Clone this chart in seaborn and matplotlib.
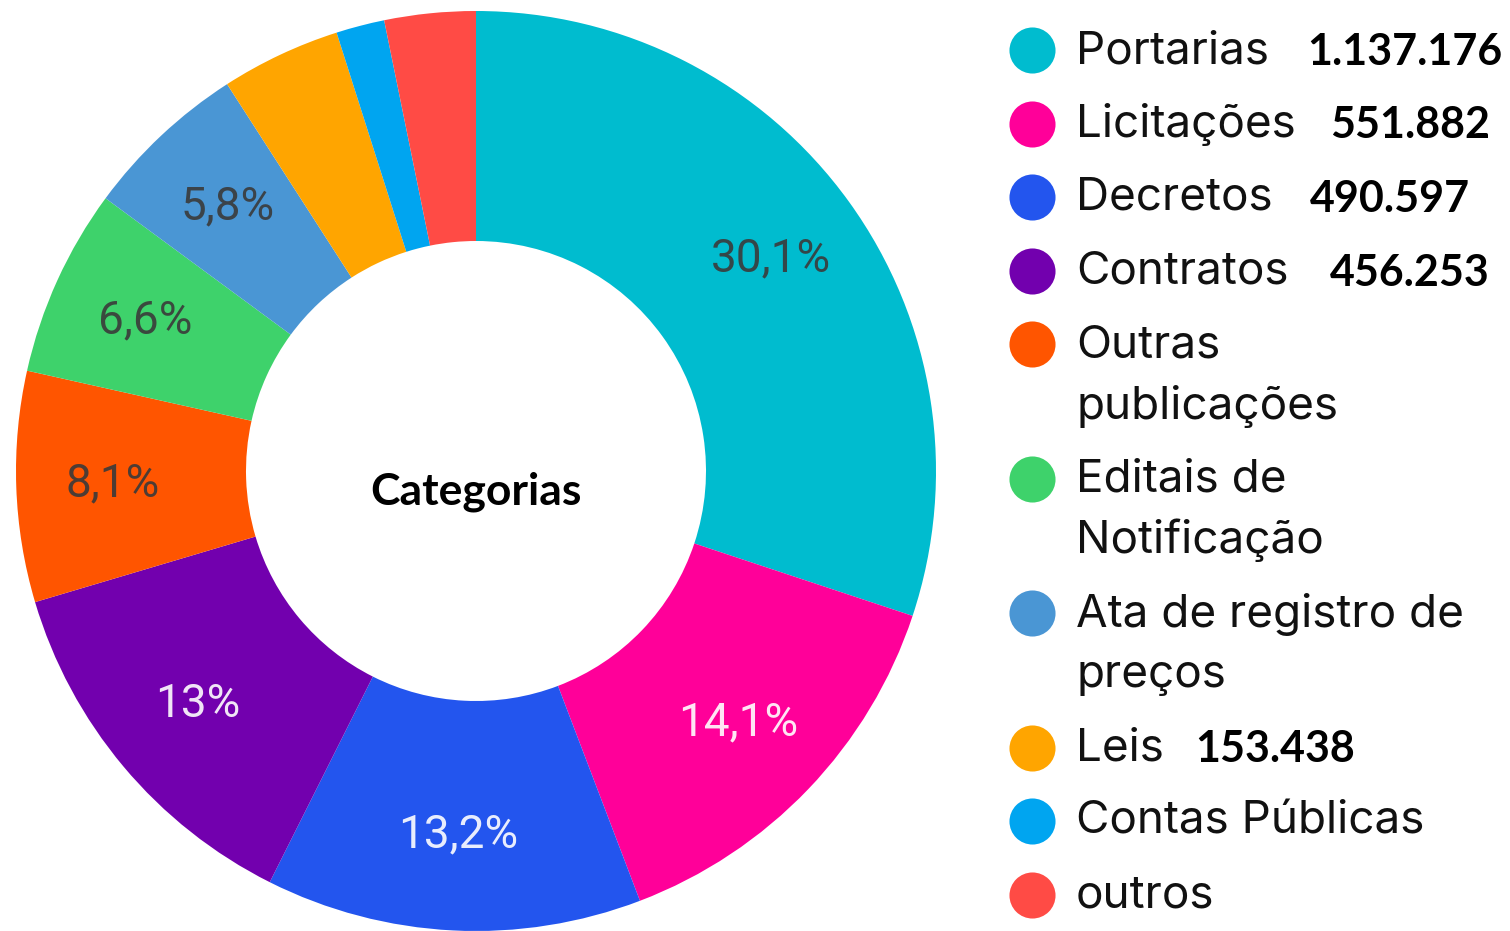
import numpy as np
import pandas as pd
import seaborn as sns
import matplotlib.pyplot as plt

sns.set_theme(style="white")
plt.rcParams['font.family'] = ['Roboto', 'DejaVu Sans']

# slice order: clockwise from the top
categorias = ["Portarias", "Licitações", "Decretos", "Contratos", "Outras\npublicações",
              "Editais de\nNotificação", "Ata de registro de\npreços", "Leis",
              "Contas Públicas", "outros"]
percentuais = [30.1, 14.1, 13.2, 13.0, 8.1, 6.6, 5.8, 4.2, 1.7, 3.2]
rotulos = ["30,1%", "14,1%", "13,2%", "13%", "8,1%", "6,6%", "5,8%", "", "", ""]
totais = ["1.137.176", "551.882", "490.597", "456.253", "", "", "", "153.438", "", ""]
cores = ["#00BCCF", "#FF0099", "#2355EE", "#7200AE", "#FF5500",
         "#3ED26B", "#4A96D4", "#FFA500", "#00A5F0", "#FF4B45"]
cor_rotulo = ["#3a3a3a", "white", "white", "white", "#3a3a3a",
              "#3a3a3a", "#3a3a3a", "white", "white", "white"]

df = pd.DataFrame({"categoria": categorias, "pct": percentuais, "rotulo": rotulos,
                   "total": totais, "cor": cores, "cor_rotulo": cor_rotulo})
paleta = sns.color_palette(df["cor"].tolist())

fig = plt.figure(figsize=(15.10, 9.31), dpi=100)
ax = fig.add_axes([16 / 1510, 0.0, 920 / 1510, 920 / 931])
wedges, _ = ax.pie(df["pct"], colors=paleta, startangle=90, counterclock=False,
                   radius=1.0, wedgeprops=dict(width=0.5, linewidth=0))
ax.set_xlim(-1, 1)
ax.set_ylim(-1, 1)
ax.set_aspect("equal")
ax.axis("off")

# percent labels in the middle of the ring
for w, (_, row) in zip(wedges, df.iterrows()):
    if not row["rotulo"]:
        continue
    ang = np.deg2rad((w.theta1 + w.theta2) / 2)
    ax.text(0.79 * np.cos(ang), 0.79 * np.sin(ang), row["rotulo"], ha="center", va="center",
            fontsize=33, color=row["cor_rotulo"], alpha=0.9)

ax.text(0, -0.045, "Categorias", ha="center", va="center", fontsize=32,
        fontweight="bold", family=["Lato", "DejaVu Sans"], color="black")

# legend, drawn by hand in figure pixels
lg = fig.add_axes([0, 0, 1, 1])
lg.set_xlim(0, 1510)
lg.set_ylim(931, 0)
lg.axis("off")
x_num = {"1.137.176": 1502, "551.882": 1490, "490.597": 1470, "456.253": 1490, "153.438": 1355}
y = 50
for _, row in df.iterrows():
    lg.scatter([1032], [y], s=1100, color=row["cor"], linewidth=0)
    linhas = row["categoria"].split("\n")
    for i, linha in enumerate(linhas):
        lg.text(1076, y + 61 * i + 1, linha, ha="left", va="center", fontsize=33,
                family=["Inter", "DejaVu Sans"], color="#111111")
    if row["total"]:
        lg.text(x_num[row["total"]], y + 2, row["total"], ha="right", va="center",
                fontsize=31, fontweight="bold", family=["Lato", "DejaVu Sans"], color="black")
    y += 73.5 + 61 * (len(linhas) - 1)

fig.savefig("out.png", dpi=100)
